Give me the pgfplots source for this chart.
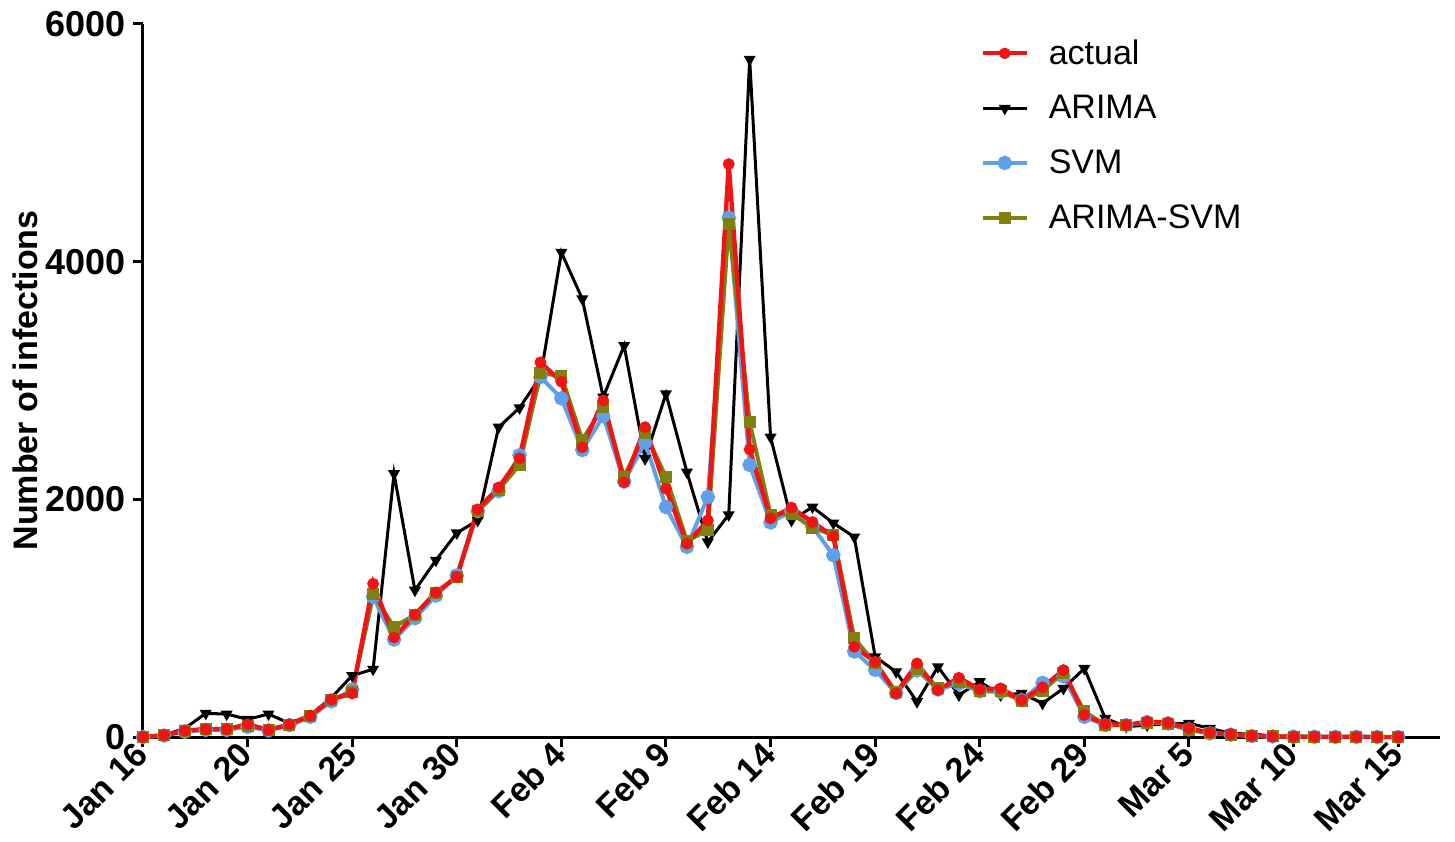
\documentclass[border=0pt]{standalone}
\usepackage{pgfplots}
\pgfplotsset{compat=1.18}
\usepackage{pgfplotstable}
\usepackage{fontspec}
\setmainfont{Liberation Sans}
\definecolor{cred}{RGB}{240,20,20}
\definecolor{cblue}{RGB}{95,160,235}
\definecolor{colive}{RGB}{128,128,16}
\pgfplotstableread{
x actual arima svm asvm
0 0 0 0 0
1 15 15 12 14
2 53 73 45 50
3 65 199 60 70
4 65 193 60 68
5 107 149 85 95
6 59 193 55 60
7 107 115 100 100
8 179 185 170 175
9 317 330 300 310
10 367 517 400 380
11 1290 570 1180 1200
12 838 2216 820 925
13 1030 1235 1000 1030
14 1217 1487 1190 1210
15 1346 1717 1360 1345
16 1916 1823 1900 1900
17 2100 2607 2070 2080
18 2345 2770 2370 2290
19 3152 3030 3030 3060
20 2990 4078 2850 3040
21 2438 3686 2415 2500
22 2832 2860 2700 2780
23 2144 3294 2150 2190
24 2607 2342 2480 2560
25 2090 2888 1935 2190
26 1627 2229 1600 1650
27 1823 1641 2020 1740
28 4821 1870 4370 4320
29 2420 5703 2290 2650
30 1840 2523 1805 1870
31 1930 1823 1900 1880
32 1809 1935 1770 1760
33 1689 1800 1530 1700
34 759 1683 720 830
35 633 675 565 620
36 367 549 370 375
37 619 297 560 575
38 395 591 400 410
39 498 353 450 465
40 401 465 385 390
41 409 353 380 385
42 311 367 310 305
43 418 283 455 390
44 563 409 510 540
45 185 577 170 215
46 109 157 100 100
47 101 87 100 100
48 129 100 125 120
49 120 112 115 110
50 73 115 65 60
51 36 73 30 30
52 25 30 20 20
53 10 25 8 8
54 5 8 5 5
55 3 4 3 3
56 2 2 2 2
57 1 1 1 1
58 1 1 1 1
59 0 0 0 0
60 0 0 0 0
}\datatable
\begin{document}
\begin{tikzpicture}
\begin{axis}[
  scale only axis,
  width=648.5pt, height=356.5pt,
  xmin=0, xmax=62, ymin=0, ymax=6000,
  axis x line=bottom, axis y line=left,
  axis line style={-, line width=1.5pt},
  tick style={line width=1.5pt, black},
  tick align=outside,
  major tick length=5pt,
  xtick={0,5,...,60},
  xticklabels={Jan 16,Jan 20,Jan 25,Jan 30,Feb 4,Feb 9,Feb 14,Feb 19,Feb 24,Feb 29,Mar 5,Mar 10,Mar 15},
  ytick={0,2000,4000,6000},
  scaled y ticks=false,
  /pgf/number format/assume math mode=true,
  yticklabel style={/pgf/number format/1000 sep={}, font=\bfseries\fontsize{18}{21}\selectfont},
  xticklabel style={rotate=45, anchor=east, font=\bfseries\fontsize{17}{20}\selectfont, inner sep=1pt},
  ylabel={Number of infections},
  ylabel shift=-3pt,
  ylabel style={font=\bfseries\fontsize{17}{20}\selectfont},
  legend style={draw=none, fill=none, at={(0.641,0.99)}, anchor=north west,
    font=\fontsize{17}{20}\selectfont, row sep=10pt,
    legend cell align=left},
  legend image code/.code={\draw[mark repeat=2,mark phase=2] plot coordinates {(0pt,0pt) (11pt,0pt) (22pt,0pt)}; \path (30pt,0pt);},
  clip=false,
]
\addlegendimage{cred, line width=2pt, mark=*, mark size=1.8pt}
\addlegendentry{actual}
\addlegendimage{black, line width=1.5pt, mark=triangle*, mark size=2pt, every mark/.append style={rotate=180}}
\addlegendentry{ARIMA}
\addlegendimage{cblue, line width=2pt, mark=*, mark size=2.6pt}
\addlegendentry{SVM}
\addlegendimage{colive, line width=2pt, mark=square*, mark size=2pt}
\addlegendentry{ARIMA-SVM}
\addplot[forget plot, black, line width=1.5pt, mark=triangle*, mark size=2pt, every mark/.append style={rotate=180}] table[x=x,y=arima] {\datatable};
\addplot[forget plot, cblue, line width=2pt, mark=*, mark size=2.6pt] table[x=x,y=svm] {\datatable};
\addplot[forget plot, colive, line width=2pt, mark=square*, mark size=2pt] table[x=x,y=asvm] {\datatable};
\addplot[forget plot, cred, line width=2.2pt, mark=*, mark size=1.8pt] table[x=x,y=actual] {\datatable};
\coordinate (O) at (axis cs:0,0);
\end{axis}
\pgfresetboundingbox
\path ([shift={(-71.5pt,-52pt)}]O) rectangle ++(727.5pt,420.5pt);
\end{tikzpicture}
\end{document}
